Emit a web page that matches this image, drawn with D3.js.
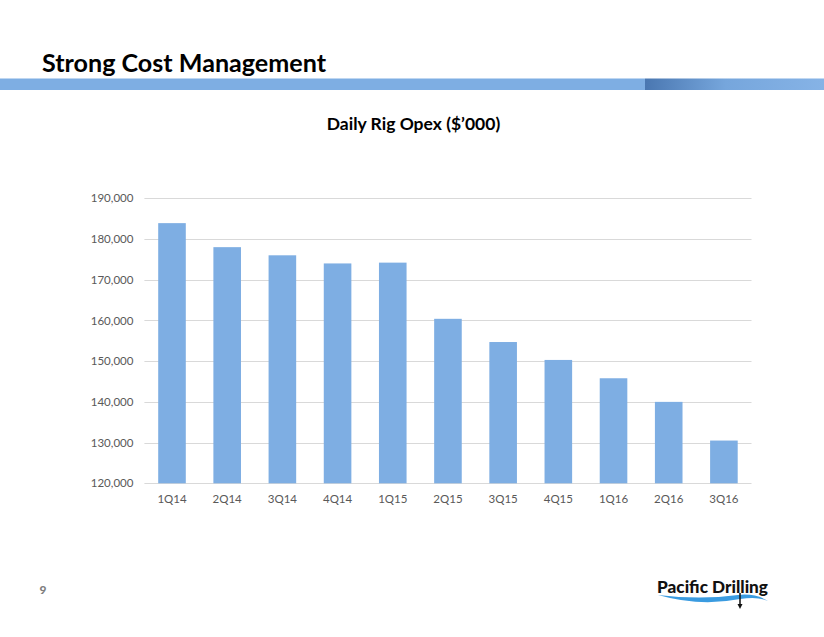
<!DOCTYPE html>
<html><head><meta charset="utf-8">
<script src="https://cdn.jsdelivr.net/npm/d3@7/dist/d3.min.js"></script>
<style>body{margin:0;background:#fff}svg{display:block}</style>
</head><body>
<script>
const categories = ["1Q14","2Q14","3Q14","4Q14","1Q15","2Q15","3Q15","4Q15","1Q16","2Q16","3Q16"];
const opex = [183900,178000,176000,174000,174200,160400,154700,150300,145800,140000,130500];
const yTicks = [120000,130000,140000,150000,160000,170000,180000,190000];
const pageTitle = "Strong Cost Management";
const chartTitle = "Daily Rig Opex ($\u2019000)";

const W = 824, H = 637;
const svg = d3.select("body").append("svg").attr("width", W).attr("height", H);
const defs = svg.append("defs");
const g1 = defs.append("linearGradient").attr("id","hdrGrad").attr("x1","0").attr("x2","1").attr("y1","0").attr("y2","0");
g1.append("stop").attr("offset","0").attr("stop-color","#4a77b1");
g1.append("stop").attr("offset","0.45").attr("stop-color","#76a6dc");
g1.append("stop").attr("offset","1").attr("stop-color","#86b3e6");

// header
svg.append("text").attr("x",42).attr("y",72).text(pageTitle)
  .attr("font-family","Lato, 'Open Sans', sans-serif").attr("font-weight","bold")
  .attr("font-size",25).attr("fill","#000")
  .attr("textLength",284).attr("lengthAdjust","spacingAndGlyphs");
svg.append("rect").attr("x",0).attr("y",78.5).attr("width",645).attr("height",11.5).attr("fill","#7eaee3");
svg.append("rect").attr("x",645).attr("y",78.5).attr("width",W-645).attr("height",11.5).attr("fill","url(#hdrGrad)");

// chart title
svg.append("text").attr("x",413.5).attr("y",130).attr("text-anchor","middle").text(chartTitle)
  .attr("font-family","Lato, 'Open Sans', sans-serif").attr("font-weight","bold")
  .attr("font-size",17.5).attr("fill","#000");

const pLeft = 144.4, pRight = 751.5, pTop = 198.3, pBottom = 483.3;
const x = d3.scaleBand().domain(categories).range([pLeft,pRight]).paddingInner(0.5).paddingOuter(0.25);
const y = d3.scaleLinear().domain([120000,190000]).range([pBottom,pTop]);

// gridlines
svg.append("g").selectAll("line").data(yTicks).join("line")
  .attr("x1",pLeft).attr("x2",pRight)
  .attr("y1",d=>Math.round(y(d))+0.5).attr("y2",d=>Math.round(y(d))+0.5)
  .attr("stroke","#d9d9d9").attr("stroke-width",1);

// bars
svg.append("g").selectAll("rect").data(opex).join("rect")
  .attr("x",(d,i)=>x(categories[i])).attr("width",x.bandwidth())
  .attr("y",d=>y(d)).attr("height",d=>pBottom-y(d))
  .attr("fill","#7eaee3");

// y axis
const fmt = d3.format(",");
const yAxis = svg.append("g").attr("transform",`translate(${pLeft-11},0)`)
  .call(d3.axisLeft(y).tickValues(yTicks).tickFormat(fmt).tickSize(0).tickPadding(0));
yAxis.select(".domain").remove();
yAxis.selectAll("text").attr("font-family","Lato, 'Open Sans', sans-serif").attr("font-size",11.5).attr("fill","#595959");

// x axis
const xAxis = svg.append("g").attr("transform",`translate(0,${pBottom})`)
  .call(d3.axisBottom(x).tickSize(0).tickPadding(12));
xAxis.select(".domain").remove();
xAxis.selectAll("text").attr("font-family","Lato, 'Open Sans', sans-serif").attr("font-size",11.5).attr("fill","#595959");

// page number
svg.append("text").attr("x",43).attr("y",594).attr("text-anchor","middle").text("9")
  .attr("font-family","Lato, sans-serif").attr("font-weight","900").attr("font-size",12).attr("fill","#7f7f7f");

// logo
const logo = svg.append("g");
logo.append("path").attr("d","M658,595 Q700,607 740,599 Q758,596 768,601 Q755,593 738,595 Q700,600 658,595 Z").attr("fill","#3a9be0");
logo.append("text").attr("x",657).attr("y",593).text("Pacific Drilling")
  .attr("font-family","Lato, 'Open Sans', sans-serif").attr("font-weight","900").attr("font-size",16.5)
  .attr("fill","#111").attr("textLength",111).attr("lengthAdjust","spacingAndGlyphs");
logo.append("line").attr("x1",740).attr("x2",740).attr("y1",593).attr("y2",605).attr("stroke","#111").attr("stroke-width",1.5);
logo.append("path").attr("d","M737.5,604 L742.5,604 L740,609 Z").attr("fill","#111");
</script>
</body></html>
